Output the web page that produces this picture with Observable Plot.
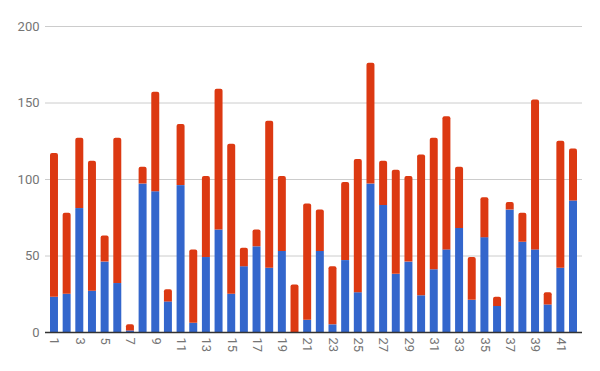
<!DOCTYPE html>
<html>
<head>
<meta charset="utf-8">
<script src="https://cdn.jsdelivr.net/npm/d3@7"></script>
<script src="https://cdn.jsdelivr.net/npm/@observablehq/plot@0.6"></script>
<style>
  html, body { margin: 0; padding: 0; background: #fff; }
</style>
</head>
<body>
<div id="chart"></div>
<script>
const categories = d3.range(1, 43);
const blueValues = [23, 25, 81, 27, 46, 32, 1, 97, 92, 20, 96, 6, 49, 67, 25, 43, 56, 42, 53, 0,
                    8, 53, 5, 47, 26, 97, 83, 38, 46, 24, 41, 54, 68, 21, 62, 17, 80, 59, 54, 18, 42, 86];
const redValues  = [94, 53, 46, 85, 17, 95, 4, 11, 65, 8, 40, 48, 53, 92, 98, 12, 11, 96, 49, 31,
                    76, 27, 38, 51, 87, 79, 29, 68, 56, 92, 86, 87, 40, 28, 26, 6, 5, 19, 98, 8, 83, 34];
const yTicks = [0, 50, 100, 150, 200];

const rows = categories.map((c, i) => ({cat: c, blue: blueValues[i], red: redValues[i]}));

const chart = Plot.plot({
  width: 600,
  height: 371,
  marginLeft: 45,
  marginRight: 18,
  marginTop: 26,
  marginBottom: 39,
  style: {fontFamily: "Roboto", fontSize: "13px", color: "#757575", background: "#fff"},
  x: {domain: categories, round: false, paddingInner: 0.37, paddingOuter: 0.395, label: null,
      tickSize: 0, tickPadding: 5, tickRotate: 90, tickFormat: d => d % 2 ? String(d) : ""},
  y: {domain: [0, 200], ticks: yTicks, label: null, tickSize: 0, tickPadding: 6},
  marks: [
    Plot.ruleY(yTicks.filter(t => t > 0), {stroke: "#cccccc", strokeWidth: 1}),
    Plot.barY(rows, {x: "cat", y: "blue", fill: "#3366cc"}),
    Plot.barY(rows, {x: "cat", y1: "blue", y2: d => d.blue + d.red, fill: "#dc3912", ry1: 2}),
    Plot.ruleY([0], {stroke: "#333333", strokeWidth: 1.5})
  ]
});
document.getElementById("chart").append(chart);
</script>
</body>
</html>
